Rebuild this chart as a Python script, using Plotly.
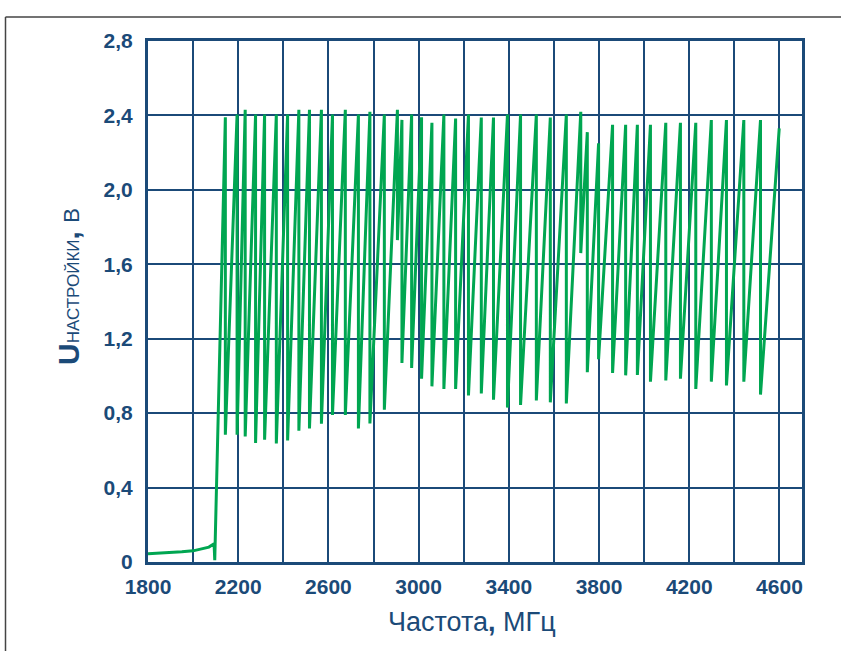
import plotly.graph_objects as go

# ---- data ----
# initial slowly-rising part of the tuning voltage
start_freq = [1800, 1850, 1900, 1950, 2000, 2040, 2070, 2093, 2096]
start_volt = [0.045, 0.047, 0.050, 0.055, 0.060, 0.070, 0.080, 0.098, 0.010]

# sawtooth: each tooth peaks at tooth_high, then drops to tooth_low at the same frequency
tooth_freq = [2143, 2195, 2231, 2277, 2317, 2369, 2419, 2469, 2516, 2569,
              2618, 2675, 2733, 2784, 2848, 2906, 2926, 2969, 3013, 3059,
              3112, 3164, 3221, 3278, 3332, 3394, 3452, 3522, 3584, 3655,
              3719, 3748, 3798, 3860, 3918, 3970, 4028, 4096, 4161, 4229,
              4298, 4365, 4442, 4516, 4599]
tooth_high = [2.39, 2.405, 2.43, 2.405, 2.405, 2.405, 2.405, 2.43, 2.43, 2.43,
              2.405, 2.43, 2.405, 2.42, 2.405, 2.43, 2.376, 2.405, 2.39, 2.36,
              2.405, 2.383, 2.405, 2.389, 2.389, 2.405, 2.405, 2.405, 2.389, 2.405,
              2.42, 2.31, 2.25, 2.35, 2.35, 2.35, 2.35, 2.36, 2.36, 2.36,
              2.375, 2.375, 2.375, 2.375, 2.33]
tooth_low = [0.684, 0.684, 0.675, 0.64, 0.657, 0.637, 0.653, 0.705, 0.718, 0.743,
             0.79, 0.79, 0.718, 0.745, 0.818, 1.73, 1.07, 1.043, 0.985, 0.944,
             0.93, 0.93, 0.895, 0.906, 0.872, 0.83, 0.844, 0.868, 0.858, 0.852,
             1.66, 1.02, 1.09, 1.016, 1.003, 1.005, 0.969, 0.976, 0.985, 0.93,
             0.969, 0.949, 0.969, 0.90, None]

x_tickvals = [1800, 2000, 2200, 2400, 2600, 2800, 3000, 3200, 3400, 3600,
              3800, 4000, 4200, 4400, 4600]
x_ticktext = ["1800", "", "2200", "", "2600", "", "3000", "", "3400", "",
              "3800", "", "4200", "", "4600"]
y_tickvals = [0, 0.4, 0.8, 1.2, 1.6, 2.0, 2.4, 2.8]
y_ticktext = ["0", "0,4", "0,8", "1,2", "1,6", "2,0", "2,4", "2,8"]

# ---- build the polyline ----
xs = list(start_freq)
ys = list(start_volt)
for f, hi, lo in zip(tooth_freq, tooth_high, tooth_low):
    xs.append(f)
    ys.append(hi)
    if lo is not None:
        xs.append(f)
        ys.append(lo)

NAVY = "#1b4a78"
GREEN = "#00a651"
FONT = "Liberation Sans, Arial, sans-serif"

fig = go.Figure()
fig.add_trace(go.Scatter(x=xs, y=ys, mode="lines",
                         line=dict(color=GREEN, width=3),
                         hoverinfo="skip", showlegend=False))

fig.update_layout(
    width=841, height=651,
    margin=dict(l=148, r=39, t=41, b=89),
    paper_bgcolor="white", plot_bgcolor="white",
    showlegend=False,
)
fig.update_xaxes(
    range=[1800, 4700], tickvals=x_tickvals, ticktext=x_ticktext,
    showgrid=True, gridcolor=NAVY, gridwidth=2,
    showline=True, linecolor=NAVY, linewidth=3, mirror=True,
    ticks="", zeroline=False, ticklabelstandoff=4,
    tickfont=dict(family=FONT, size=21, color=NAVY, weight="bold"),
)
fig.update_yaxes(
    range=[0, 2.8], tickvals=y_tickvals, ticktext=y_ticktext,
    showgrid=True, gridcolor=NAVY, gridwidth=2,
    showline=True, linecolor=NAVY, linewidth=3, mirror=True,
    ticks="", zeroline=False, ticklabelstandoff=8,
    tickfont=dict(family=FONT, size=21, color=NAVY, weight="bold"),
)

# axis titles as annotations
fig.add_annotation(
    text="<b>U</b><span style='font-size:17px'>НАСТРОЙКИ</span><b>,</b> <span style='font-size:22px'>В</span>",
    xref="paper", yref="paper", x=(68 - 148) / 654, y=(562 - 287) / 521,
    textangle=-90, showarrow=False, xanchor="center", yanchor="middle",
    font=dict(family=FONT, size=30, color=NAVY),
)
fig.add_annotation(
    text="Частота<b>,</b> МГц",
    xref="paper", yref="paper", x=(472 - 148) / 654, y=(562 - 622) / 521,
    showarrow=False, xanchor="center", yanchor="middle",
    font=dict(family=FONT, size=27, color=NAVY),
)

# outer frame lines (top and left edge of the picture)
fx = (5.5 - 148) / 654
fy = (562 - 17) / 521
fig.add_shape(type="line", xref="paper", yref="paper",
              x0=fx, y0=-0.3, x1=fx, y1=fy, line=dict(color="#444444", width=1.5))
fig.add_shape(type="line", xref="paper", yref="paper",
              x0=fx, y0=fy, x1=1.2, y1=fy, line=dict(color="#444444", width=1.5))

fig.write_html("out.html", config={"displayModeBar": False},
               post_script="document.body.style.margin='0';")
